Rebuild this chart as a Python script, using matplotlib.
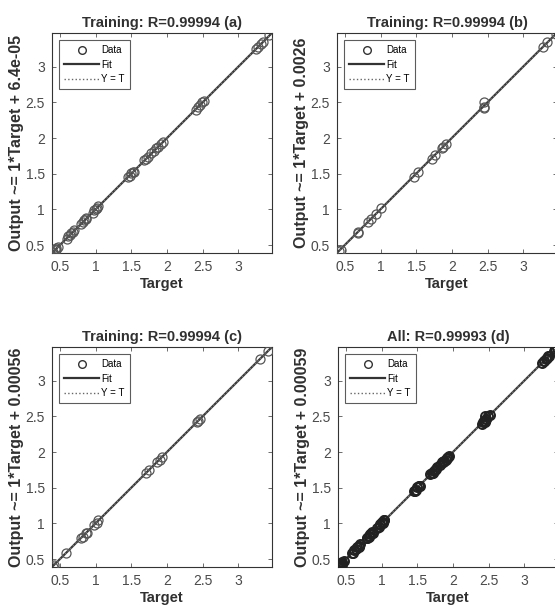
import numpy as np
import matplotlib.pyplot as plt
from matplotlib.lines import Line2D

plt.rcParams["font.family"] = ["Liberation Sans", "DejaVu Sans"]

# --------------------
# Data
# --------------------
titles = ["Training: R=0.99994 (a)", "Training: R=0.99994 (b)",
          "Training: R=0.99994 (c)", "All: R=0.99993 (d)"]
ylabels = ["Output ~= 1*Target + 6.4e-05", "Output ~= 1*Target + 0.0026",
           "Output ~= 1*Target + 0.00056", "Output ~= 1*Target + 0.00059"]
intercepts = [6.4e-05, 0.0026, 0.00056, 0.00059]

target_a = [0.40, 0.41, 0.43, 0.44, 0.45, 0.47, 0.60, 0.62, 0.64, 0.66, 0.68, 0.70,
            0.80, 0.82, 0.84, 0.86, 0.87, 0.96, 0.98, 1.00, 1.02, 1.04,
            1.46, 1.48, 1.50, 1.52, 1.54, 1.68, 1.71, 1.74, 1.78, 1.82, 1.85,
            1.88, 1.91, 1.94, 2.40, 2.43, 2.46, 2.49, 2.52, 3.25, 3.28, 3.31,
            3.34, 3.43]
output_a = [0.39, 0.41, 0.44, 0.43, 0.46, 0.47, 0.59, 0.63, 0.64, 0.67, 0.68, 0.71,
            0.79, 0.82, 0.85, 0.86, 0.88, 0.95, 0.99, 1.01, 1.02, 1.05,
            1.46, 1.47, 1.51, 1.52, 1.53, 1.69, 1.71, 1.73, 1.79, 1.82, 1.86,
            1.88, 1.92, 1.94, 2.39, 2.44, 2.46, 2.50, 2.52, 3.24, 3.28, 3.32,
            3.34, 3.44]

target_b = [0.42, 0.44, 0.68, 0.69, 0.83, 0.87, 0.93, 1.01, 1.47, 1.52, 1.72,
            1.76, 1.86, 1.88, 1.92, 2.45, 2.45, 2.45, 3.28, 3.33, 3.45]
output_b = [0.42, 0.43, 0.67, 0.69, 0.83, 0.86, 0.93, 1.02, 1.46, 1.52, 1.71,
            1.76, 1.86, 1.87, 1.92, 2.42, 2.44, 2.50, 3.28, 3.34, 3.45]

target_c = [0.40, 0.42, 0.58, 0.80, 0.82, 0.86, 0.88, 0.98, 1.02, 1.04, 1.70,
            1.75, 1.86, 1.90, 1.93, 2.42, 2.44, 2.46, 3.30, 3.42]
output_c = [0.39, 0.42, 0.58, 0.80, 0.81, 0.86, 0.87, 0.98, 1.01, 1.05, 1.70,
            1.75, 1.86, 1.89, 1.93, 2.42, 2.44, 2.46, 3.30, 3.42]

targets = [target_a, target_b, target_c, target_a + target_b + target_c]
outputs = [output_a, output_b, output_c, output_a + output_b + output_c]

lims = (0.39, 3.47)
ticks = [0.5, 1, 1.5, 2, 2.5, 3]
tick_labels = ["0.5", "1", "1.5", "2", "2.5", "3"]

# --------------------
# Figure layout (pixel-matched to reference)
# --------------------
W, H = 555, 606
fig = plt.figure(figsize=(W / 100, H / 100), dpi=100)
boxes = [(52, 33), (337, 33), (52, 347), (338, 347)]  # left, top in px
size = 220

txt = "#303030"
for i in range(4):
    left, top = boxes[i]
    ax = fig.add_axes([left / W, (H - top - size) / H, size / W, size / H])

    lw_m = 1.4 if i == 3 else 0.9
    col_m = "#222222" if i == 3 else "#555555"
    ax.plot(targets[i], outputs[i], "o", mfc="none", mec=col_m, mew=lw_m,
            ms=6.5, zorder=3)
    xs = np.array(lims)
    ax.plot(xs, xs + intercepts[i], "-", color="#3a3a3a", lw=1.6, zorder=2)
    ax.plot(xs, xs, ":", color="#777777", lw=1.0, zorder=2)

    ax.set_xlim(lims)
    ax.set_ylim(lims)
    ax.set_xticks(ticks)
    ax.set_yticks(ticks)
    ax.set_xticklabels(tick_labels)
    ax.set_yticklabels(tick_labels)
    ax.tick_params(direction="in", length=3, width=0.6, top=True, right=True,
                   labelsize=10, colors="#555555", labelcolor="#4a4a4a", pad=5)
    for s in ax.spines.values():
        s.set_color("#333333")
        s.set_linewidth(0.8)

    ax.set_title(titles[i], fontsize=10.5, fontweight="bold", color=txt, pad=4)
    ax.set_xlabel("Target", fontsize=10.5, fontweight="bold", color=txt, labelpad=2)
    ax.set_ylabel(ylabels[i], fontsize=11.5, fontweight="bold", color=txt, labelpad=1)

    handles = [
        Line2D([], [], ls="none", marker="o", mfc="none", mec="#333333", ms=5.5),
        Line2D([], [], ls="-", color="#333333", lw=1.6),
        Line2D([], [], ls=":", color="#666666", lw=1.0),
    ]
    leg = ax.legend(handles, ["Data", "Fit", "Y = T"], loc="upper left",
                    fontsize=7, frameon=True, fancybox=False,
                    borderaxespad=0.7, handlelength=3.6, handletextpad=0.2,
                    labelspacing=0.45, borderpad=0.55)
    leg.get_frame().set_edgecolor("#333333")
    leg.get_frame().set_linewidth(0.8)

fig.savefig("out.png", dpi=100)
